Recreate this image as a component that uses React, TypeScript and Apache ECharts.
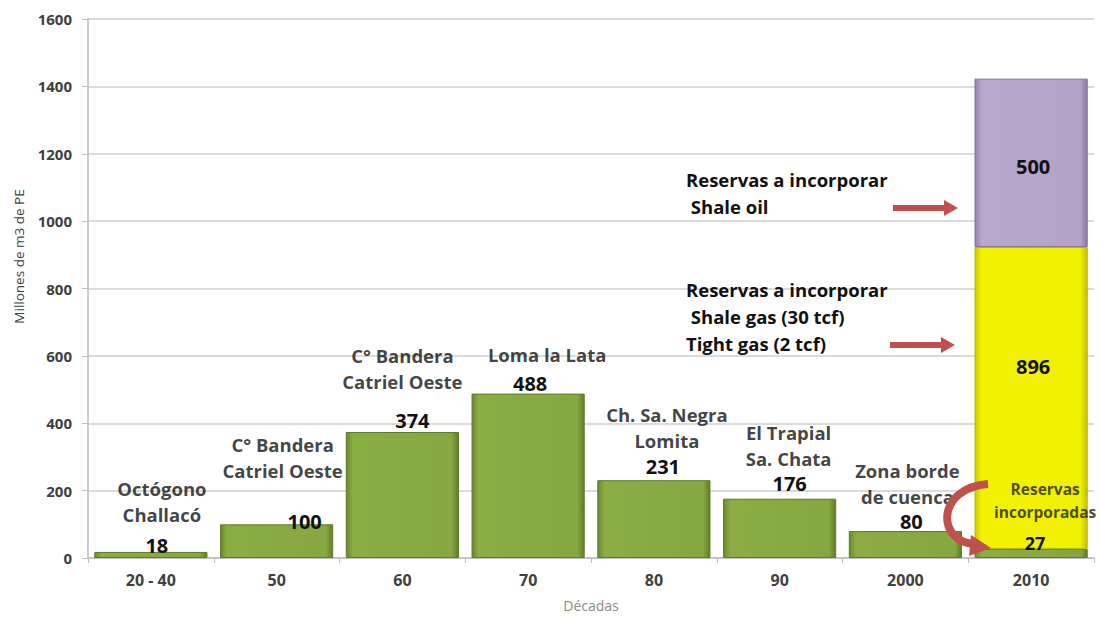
import React, { useEffect, useRef } from "react";
import * as echarts from "echarts";

const categories = ["20 - 40", "50", "60", "70", "80", "90", "2000", "2010"];
const incorporadas = [18, 100, 374, 488, 231, 176, 80, 27];
const shaleGas = [null, null, null, null, null, null, null, 896];
const shaleOil = [null, null, null, null, null, null, null, 500];
const fieldNames = [
  "Octógono\nChallacó",
  "C° Bandera\nCatriel Oeste",
  "C° Bandera\nCatriel Oeste",
  "Loma la Lata",
  "Ch. Sa. Negra\nLomita",
  "El Trapial\nSa. Chata",
  "Zona borde\nde cuenca",
  "Reservas\nincorporadas",
];
const yTicks = [0, 200, 400, 600, 800, 1000, 1200, 1400, 1600];

// layout tweaks for labels (pixels)
const valueLabelOffsets = [[6, 3], [28, 6], [10, -3], [2, -1], [9, -5], [10, -6], [6, -1], [4, -10]];
const nameLabelOffsets = [[11, -24], [6, -40], [0, -37], [19, -26], [13, -26], [9, -27], [2, -21], [14, -25]];

const FONT = "'Open Sans', sans-serif";

export default function App() {
  const ref = useRef<HTMLDivElement>(null);
  useEffect(() => {
    if (!ref.current) return;
    const chart = echarts.init(ref.current, null, { renderer: "svg" });
    const green = new echarts.graphic.LinearGradient(0, 0, 1, 0, [
      { offset: 0, color: "#6a8a2c" },
      { offset: 0.06, color: "#8cad44" },
      { offset: 0.94, color: "#86a741" },
      { offset: 1, color: "#5f7d27" },
    ]);
    const yellow = new echarts.graphic.LinearGradient(0, 0, 1, 0, [
      { offset: 0, color: "#c9c900" },
      { offset: 0.06, color: "#f3f300" },
      { offset: 0.94, color: "#efef00" },
      { offset: 1, color: "#c2c200" },
    ]);
    const purple = new echarts.graphic.LinearGradient(0, 0, 1, 0, [
      { offset: 0, color: "#9382a8" },
      { offset: 0.06, color: "#b8a8cc" },
      { offset: 0.94, color: "#b3a2c7" },
      { offset: 1, color: "#8a789f" },
    ]);
    const labelText = {
      fontFamily: FONT,
      fontWeight: "bold" as const,
      color: "#111",
    };
    chart.setOption({
      animation: false,
      textStyle: { fontFamily: FONT },
      grid: { left: 88, right: 7, top: 19, bottom: 61, outerBoundsMode: "none", containLabel: false },
      xAxis: {
        type: "category",
        data: categories,
        name: "Décadas",
        nameLocation: "middle",
        nameGap: 40,
        nameTextStyle: { color: "#8a8a8a", fontSize: 14, fontFamily: FONT },
        axisLine: { lineStyle: { color: "#bdbdbd", width: 1.5 } },
        axisTick: { show: true, length: 5, lineStyle: { color: "#bdbdbd" } },
        axisLabel: { color: "#404040", fontWeight: "bold", fontSize: 16, margin: 14, fontFamily: FONT },
      },
      yAxis: {
        type: "value",
        min: yTicks[0],
        max: yTicks[yTicks.length - 1],
        interval: 200,
        name: "Millones de m3 de PE",
        nameLocation: "middle",
        nameGap: 62,
        nameTextStyle: { color: "#404040", fontSize: 13.5, fontFamily: FONT, padding: [0, 0, 0, 64] },
        axisLine: { show: true, lineStyle: { color: "#bdbdbd", width: 1.5 } },
        axisTick: { show: true, inside: false, length: 6, lineStyle: { color: "#bdbdbd" } },
        axisLabel: {
          color: "#404040",
          fontWeight: "bold",
          fontSize: 15,
          margin: 16,
          fontFamily: FONT,
          formatter: (v: number) => String(v),
        },
        splitLine: { lineStyle: { color: "#cfcfcf", width: 1.5 } },
      },
      series: [
        {
          name: "Reservas incorporadas",
          type: "bar",
          stack: "total",
          barCategoryGap: "10%",
          itemStyle: { color: green, borderColor: "#5e7b28", borderWidth: 1 },
          label: { show: true, position: "top", distance: 0, fontSize: 20, lineHeight: 18, ...labelText },
          data: incorporadas.map((v, i) => ({
            value: v,
            label:
              i === incorporadas.length - 1
                ? { position: "inside", offset: valueLabelOffsets[i], fontSize: 18 }
                : { offset: valueLabelOffsets[i] },
          })),
        },
        {
          name: "Shale gas + Tight gas",
          type: "bar",
          stack: "total",
          itemStyle: { color: yellow, borderColor: "#b8b800", borderWidth: 1 },
          label: { show: true, position: "inside", offset: [2, -31], fontSize: 20, ...labelText },
          data: shaleGas,
        },
        {
          name: "Shale oil",
          type: "bar",
          stack: "total",
          itemStyle: { color: purple, borderColor: "#807099", borderWidth: 1 },
          label: { show: true, position: "inside", offset: [2, 4], fontSize: 20, ...labelText },
          data: shaleOil,
        },
        {
          name: "Yacimientos",
          type: "scatter",
          symbolSize: 1,
          itemStyle: { color: "rgba(0,0,0,0)" },
          silent: true,
          label: {
            show: true,
            position: "top",
            distance: 0,
            formatter: (p: any) => fieldNames[p.dataIndex],
            fontSize: 18.5,
            lineHeight: 26,
            align: "center",
            ...labelText,
          },
          data: incorporadas.map((v, i) => ({
            value: v,
            label:
              i === incorporadas.length - 1
                ? { offset: nameLabelOffsets[i], fontSize: 15.5, lineHeight: 23, color: "#22220e" }
                : { offset: nameLabelOffsets[i] },
          })),
        },
      ],
      graphic: [
        {
          type: "text",
          left: 686,
          top: 166,
          z: 100,
          style: {
            text: "Reservas a incorporar\n Shale oil",
            font: `bold 18.5px ${FONT}`,
            lineHeight: 27,
            fill: "#111",
          },
        },
        {
          type: "text",
          left: 686,
          top: 276,
          z: 100,
          style: {
            text: "Reservas a incorporar\n Shale gas (30 tcf)\nTight gas (2 tcf)",
            font: `bold 18.5px ${FONT}`,
            lineHeight: 27,
            fill: "#111",
          },
        },
        {
          type: "polygon",
          z: 100,
          shape: { points: [[893, 205], [944, 205], [944, 200], [958, 208], [944, 216], [944, 211], [893, 211]] },
          style: { fill: "#c0504d" },
        },
        {
          type: "polygon",
          z: 100,
          shape: { points: [[890, 342], [941, 342], [941, 337], [955, 345], [941, 353], [941, 348], [890, 348]] },
          style: { fill: "#c0504d" },
        },
        {
          type: "bezierCurve",
          z: 100,
          shape: { x1: 988, y1: 484, cpx1: 936, cpy1: 488, cpx2: 936, cpy2: 542, x2: 975, y2: 544 },
          style: { stroke: "#c0504d", lineWidth: 8, fill: "none" },
        },
        {
          type: "polygon",
          z: 100,
          shape: { points: [[971, 535], [991, 548], [969, 556]] },
          style: { fill: "#c0504d" },
        },
      ],
    });
    return () => chart.dispose();
  }, []);
  return <div ref={ref} style={{ width: 1101, height: 619, position: "absolute", left: 0, top: 0 }} />;
}
